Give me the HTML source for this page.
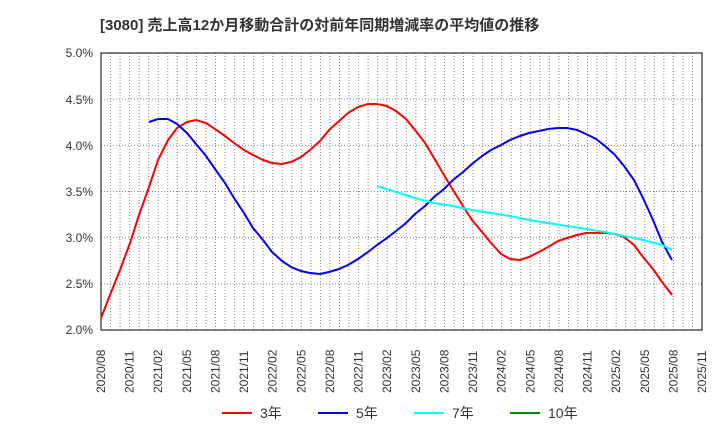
<!DOCTYPE html><html><head><meta charset="utf-8"><style>body{margin:0;background:#fff}svg{display:block}text{font-family:"Liberation Sans","Noto Sans CJK JP",sans-serif}</style></head><body>
<svg width="720" height="440" xmlns="http://www.w3.org/2000/svg">
<text x="100" y="30" font-size="15" font-weight="bold" fill="#333">[3080]  売上高12か月移動合計の対前年同期増減率の平均値の推移</text>
<g id="g"></g>
<rect x="101" y="53" width="601" height="277" fill="none" stroke="#000" stroke-width="1"/>
<g font-size="12" fill="#333" text-anchor="end">
<text x="93" y="57">5.0%</text><text x="93" y="104">4.5%</text><text x="93" y="150">4.0%</text><text x="93" y="196">3.5%</text><text x="93" y="242">3.0%</text><text x="93" y="288">2.5%</text><text x="93" y="334">2.0%</text></g>
<g id="xl" font-size="12" fill="#333"></g>
<polyline fill="none" stroke="#f00" stroke-width="2" points="101,318 110,295 120,270 130,243 139,215 149,187 158,160 168,140 177,128 187,122 196,120 206,123 215,129 225,136 234,143 244,150 253,155 263,160 272,163 282,164 291,162 301,157 310,150 320,141 329,130 339,121 348,113 358,107 368,104 377,104 387,106 396,111 406,119 415,130 425,143 434,158 444,175 453,190 463,206 472,220 482,232 491,243 501,254 510,259 520,260 529,257 539,252 548,247 558,241 567,238 577,235 586,233 596,233 605,233 615,234 624,237 634,245 643,257 653,269 662,282 672,295"/>
<polyline fill="none" stroke="#00f" stroke-width="2" points="149,122 158,119 168,119 177,124 187,133 196,144 206,156 215,169 225,183 234,198 244,213 253,228 263,240 272,252 282,261 291,267 301,271 310,273 320,274 329,272 339,269 348,265 358,259 368,252 377,245 387,238 396,231 406,223 415,214 425,206 434,197 444,189 453,180 463,172 472,164 482,156 491,150 501,145 510,140 520,136 529,133 539,131 548,129 558,128 567,128 577,130 586,134 596,139 605,146 615,155 624,166 634,180 643,198 653,220 662,242 672,260"/>
<polyline fill="none" stroke="#0ff" stroke-width="2" points="377,186 396,192 415,198 434,203 453,206 472,210 491,213 510,216 529,220 548,223 567,226 586,229 605,232 624,236 643,240 662,245 672,250"/>
<g font-size="14" fill="#333">
<line x1="222" y1="413" x2="252" y2="413" stroke="#f00" stroke-width="2"/><text x="260" y="418">3年</text>
<line x1="318" y1="413" x2="348" y2="413" stroke="#00f" stroke-width="2"/><text x="356" y="418">5年</text>
<line x1="414" y1="413" x2="444" y2="413" stroke="#0ff" stroke-width="2"/><text x="452" y="418">7年</text>
<line x1="510" y1="413" x2="540" y2="413" stroke="#080" stroke-width="2"/><text x="548" y="418">10年</text></g>
</svg>
<script>
var g=document.getElementById('g'),s='';
for(var i=1;i<63;i++){var x=101+i*601/63;s+='<line x1="'+x+'" y1="53" x2="'+x+'" y2="330" stroke="#888" stroke-dasharray="1,2"/>';}
for(var j=1;j<6;j++){var y=53+j*277/6;s+='<line x1="101" y1="'+y+'" x2="702" y2="'+y+'" stroke="#888" stroke-dasharray="1,2"/>';}
g.innerHTML=s;
var xl=document.getElementById('xl'),t='',m=8,yr=2020;
for(var k=0;k<22;k++){var x=101+k*3*601/63+4;t+='<text transform="translate('+x+',393) rotate(-90)">'+yr+'/'+(m<10?'0':'')+m+'</text>';m+=3;if(m>12){m-=12;yr++;}}
xl.innerHTML=t;
</script>
</body></html>
